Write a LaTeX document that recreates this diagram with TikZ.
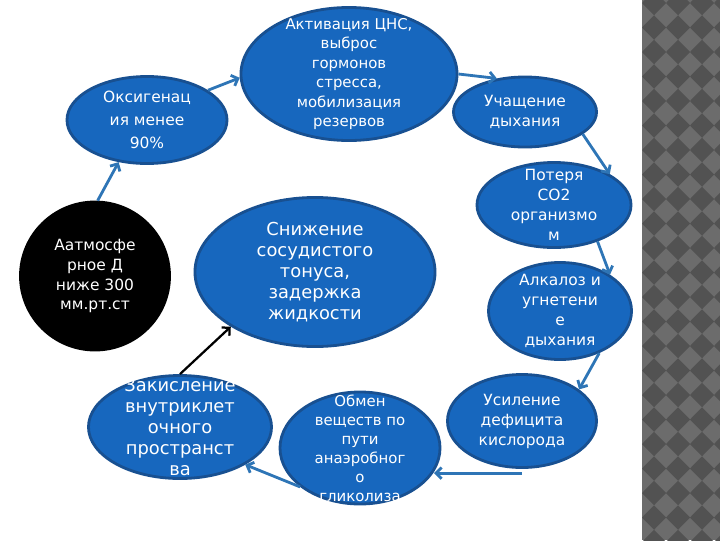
\documentclass[tikz,border=0pt]{standalone}
\usepackage{fontspec}
\setmainfont{DejaVu Sans}
\usetikzlibrary{arrows.meta,shapes.geometric}

\definecolor{bubfill}{RGB}{23,103,190}
\definecolor{bubline}{RGB}{24,80,145}
\definecolor{arblue}{RGB}{46,117,182}
\definecolor{tiledark}{RGB}{82,82,82}
\definecolor{tilelight}{RGB}{108,108,108}

\begin{document}
\begin{tikzpicture}[x=0.025cm,y=-0.025cm,
  bub/.style={ellipse,draw=bubline,line width=2pt,fill=bubfill,inner sep=0pt},
  txt/.style={text=white,align=center,font=\fontsize{11}{14.2}\selectfont},
  ar/.style={-{Straight Barb[length=4pt,width=8pt]},line width=2pt,draw=arblue},
  blk/.style={-{Straight Barb[length=4pt,width=8pt]},line width=1.6pt,draw=black}]
\useasboundingbox (0,0) rectangle (720,540);
% checkered strip on the right
\fill[tilelight] (642,0) rectangle (720,540);
\begin{scope}
  \clip (642,0) rectangle (720,540);
  \foreach \i in {0,...,3}
    \foreach \j in {0,...,22}
      \fill[tiledark] (642+24*\i,3+24.5*\j) -- ++(12,-12.25) -- ++(12,12.25) -- ++(-12,12.25) -- cycle;
\end{scope}

\node[bub,fill=black,draw=black,minimum width=3.725cm,minimum height=3.7cm,
  label={[txt]center:{Аатмосфе\\рное Д\\ниже 300\\мм.рт.ст}}] (atm) at (95,276) {};
\node[bub,minimum width=4cm,minimum height=2.175cm,
  label={[txt,font=\fontsize{11}{16.3}\selectfont]center:{Оксигенац\\ия менее\\90\%}}] (oks) at (147,120) {};
\node[bub,minimum width=5.4cm,minimum height=3.325cm,
  label={[txt,font=\fontsize{10.6}{13.8}\selectfont]center:{Активация ЦНС,\\выброс\\гормонов\\стресса,\\мобилизация\\резервов}}] (akt) at (349,74) {};
\node[bub,minimum width=3.575cm,minimum height=1.75cm,
  label={[txt]center:{Учащение\\дыхания}}] (uch) at (525,112) {};
\node[bub,minimum width=3.85cm,minimum height=2.125cm,
  label={[txt]center:{Потеря\\СО2\\организмо\\м}}] (pot) at (554,205) {};
\node[bub,minimum width=3.575cm,minimum height=2.425cm,
  label={[txt]center:{Алкалоз и\\угнетени\\е\\дыхания}}] (alk) at (560,311) {};
\node[bub,minimum width=3.725cm,minimum height=2.325cm,
  label={[txt]center:{Усиление\\дефицита\\кислорода}}] (usil) at (522,421) {};
\node[bub,minimum width=4cm,minimum height=2.8cm,
  label={[txt,font=\fontsize{10.6}{13.5}\selectfont]center:{Обмен\\веществ по\\пути\\анаэробног\\о\\гликолиза}}] (obm) at (360,448) {};
\node[bub,minimum width=4.575cm,minimum height=2.575cm,
  label={[txt,font=\fontsize{12.7}{14.9}\selectfont]center:{Закисление\\внутриклет\\очного\\пространст\\ва}}] (zak) at (180,427) {};
\node[bub,minimum width=6cm,minimum height=3.725cm,
  label={[txt,font=\fontsize{12.7}{14.9}\selectfont]center:{Снижение\\сосудистого\\тонуса,\\задержка\\жидкости}}] (sniz) at (315,272) {};

% the cycle
\draw[ar] (atm.88) -- (oks.-124);
\draw[ar] (oks.26) -- (akt.182);
\draw[ar] (akt.east) -- (uch.130);
\draw[ar] (uch.-21) -- (pot.29);
\draw[ar] (pot.-40) -- (alk.36);
\draw[ar] (alk.-47) -- (usil.29);
\coordinate (usb) at ([yshift=-3pt]usil.south);
\draw[ar] (usb) -- (obm.-18 |- usb);
\draw[ar] (obm.213) -- (zak.-30);
\draw[blk] (zak.north) -- (sniz.213);
\end{tikzpicture}
\end{document}
